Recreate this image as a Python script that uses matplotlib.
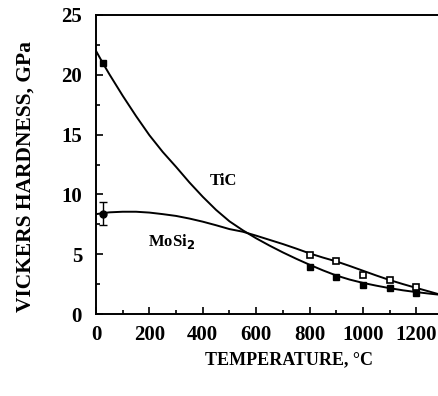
import matplotlib
matplotlib.use("Agg")
import matplotlib.pyplot as plt
from matplotlib.ticker import MultipleLocator

# Measured data points
tic_T = [25, 800, 900, 1000, 1100, 1200]
tic_H = [21.0, 3.95, 3.1, 2.45, 2.15, 1.78]
mosi2_T = [800, 900, 1000, 1100, 1200]
mosi2_H = [4.93, 4.43, 3.3, 2.84, 2.23]
mosi2_rt_T = [25]
mosi2_rt_H = [8.4]
mosi2_rt_err = [1.0]

# Fitted curves
tic_curve_T = [0, 25, 50, 100, 150, 200, 250, 300, 350, 400, 450, 500, 550, 600, 650,
               700, 750, 800, 850, 900, 950, 1000, 1050, 1100, 1150, 1200, 1250, 1300]
tic_curve_H = [22.0, 21.0, 20.05, 18.25, 16.55, 14.95, 13.55, 12.3, 11.0, 9.8, 8.7, 7.75, 7.0, 6.33, 5.72,
               5.15, 4.62, 4.12, 3.65, 3.22, 2.88, 2.6, 2.37, 2.16, 1.98, 1.83, 1.7, 1.58]
mosi2_curve_T = [0, 50, 100, 150, 200, 250, 300, 350, 400, 450, 500, 550, 600, 650,
                 700, 750, 800, 850, 900, 950, 1000, 1050, 1100, 1150, 1200, 1250, 1300]
mosi2_curve_H = [8.35, 8.5, 8.55, 8.55, 8.48, 8.35, 8.2, 7.98, 7.72, 7.42, 7.1, 6.88, 6.55, 6.2,
                 5.85, 5.47, 5.07, 4.72, 4.4, 4.02, 3.62, 3.22, 2.84, 2.5, 2.18, 1.87, 1.55]

x_ticks = [0, 200, 400, 600, 800, 1000, 1200]
y_ticks = [0, 5, 10, 15, 20, 25]

plt.rcParams['font.family'] = ['Liberation Serif', 'DejaVu Serif']
plt.rcParams['font.weight'] = 'bold'

fig = plt.figure(figsize=(4.38, 3.96), dpi=100)
ax = fig.add_axes([96/438, 82/396, 347/438, 299/396])

ax.plot(tic_curve_T, tic_curve_H, color='black', lw=1.4)
ax.plot(mosi2_curve_T, mosi2_curve_H, color='black', lw=1.4)
ax.plot(tic_T, tic_H, 's', color='black', ms=5, mfc='black')
ax.plot(mosi2_T, mosi2_H, 's', color='black', ms=5, mfc='white', mew=1.2)
ax.errorbar(mosi2_rt_T, mosi2_rt_H, yerr=mosi2_rt_err, fmt='o', color='black',
            ms=5, mfc='black', capsize=3, elinewidth=1, capthick=1)

ax.text(477, 11.1, 'TiC', fontsize=12, fontweight='bold', ha='center', va='center')
ax.text(282, 6.05, r'MoSi$_\mathbf{2}$', fontsize=12, fontweight='bold', ha='center', va='center')

ax.set_xlim(0, 1300)
ax.set_ylim(0, 25)
ax.set_xticks(x_ticks)
ax.set_yticks(y_ticks)
ax.xaxis.set_minor_locator(MultipleLocator(100))
ax.yaxis.set_minor_locator(MultipleLocator(2.5))
ax.tick_params(which='both', direction='in', labelsize=15, width=1.2)
ax.tick_params(which='major', length=5)
ax.tick_params(which='minor', length=3)
ax.tick_params(axis='y', pad=10)
ax.tick_params(axis='x', pad=8)
for lbl in ax.get_xticklabels() + ax.get_yticklabels():
    lbl.set_fontweight('bold')
ax.spines['right'].set_visible(False)
for s in ['left', 'bottom', 'top']:
    ax.spines[s].set_linewidth(1.4)

ax.set_xlabel('TEMPERATURE, °C', fontsize=13, fontweight='bold', va='center')
ax.xaxis.set_label_coords((289 - 96) / 347, (314 - 360) / 299)
ax.set_ylabel('VICKERS HARDNESS, GPa', fontsize=15.5, fontweight='bold', va='center')
ax.yaxis.set_label_coords((26 - 96) / 347, (314 - 177) / 299)

fig.savefig('out.png', dpi=100)
